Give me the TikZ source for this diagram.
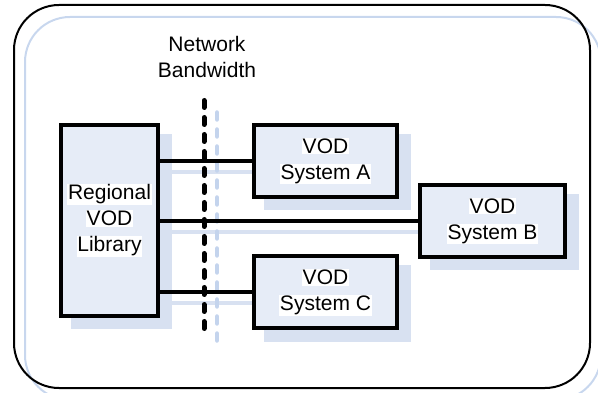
\documentclass[tikz,border=0pt]{standalone}
\usepackage{fontspec}
\setmainfont{Liberation Sans}
\usetikzlibrary{calc}

\definecolor{boxfill}{RGB}{230,236,247}
\definecolor{shadowblue}{RGB}{216,225,241}
\definecolor{frameshadow}{RGB}{200,215,238}
\definecolor{dashshadow}{RGB}{196,212,237}

\pgfdeclarelayer{back}
\pgfsetlayers{back,main}

% one line of label text on its own white strip
\setlength{\fboxsep}{0.8pt}
\newcommand{\wline}[1]{\colorbox{white}{#1}}

\begin{document}
\begin{tikzpicture}[x=1pt,y=-1pt,
  every node/.style={font=\fontsize{21}{26}\selectfont},
  sysbox/.style={draw=black, line width=4pt, fill=boxfill, align=center, inner sep=0pt},
  link/.style={line width=4pt},
  linkshadow/.style={line width=4pt, draw=shadowblue},
  boxshadow/.style={fill=shadowblue},
  netdash/.style={line width=5pt, line cap=round, dash pattern=on 7pt off 10pt},
  netdashshadow/.style={line width=4.5pt, line cap=round, dash pattern=on 7pt off 10pt, draw=dashshadow},
]
\useasboundingbox (0,0) rectangle (598,393);
\clip (0,0) rectangle (598,393);

% rounded outer frame with its offset shadow outline
\begin{pgfonlayer}{back}
  \draw[frameshadow, line width=2pt, rounded corners=45pt] (25,17) rectangle (601,400);
\end{pgfonlayer}
\draw[line width=2pt, rounded corners=45pt] (14,5) rectangle (590,388);

% boxes
\node[sysbox, minimum width=97pt, minimum height=191pt] (lib) at (109.5,220.5)
  {\wline{Regional}\\\wline{VOD}\\\wline{Library}};
\node[sysbox, minimum width=143pt, minimum height=72pt] (A) at (325.5,161)
  {\wline{VOD}\\\wline{System A}};
\node[sysbox, minimum width=145pt, minimum height=72pt] (B) at (492.5,221)
  {\wline{VOD}\\\wline{System B}};
\node[sysbox, minimum width=143pt, minimum height=72pt] (C) at (325.5,292.5)
  {\wline{VOD}\\\wline{System C}};

% bandwidth boundary
\node[align=center] (bw) at (207,57) {Network\\Bandwidth};
\coordinate (bwtop) at (204,100.5);
\coordinate (bwbot) at (204,330.5);

% shadows
\begin{pgfonlayer}{back}
  \foreach \n in {lib,A,B,C}
    \fill[boxshadow] ($(\n.south west)+(12,11)$) rectangle ($(\n.north east)+(12,11)$);
  \foreach \n in {A,B,C}
    \draw[linkshadow] ($(lib.east |- \n.west)+(10,11)$) -- ($(\n.west)+(12,11)$);
  \draw[netdashshadow] ($(bwtop)+(13,12)$) -- ($(bwbot)+(13,12)$);
\end{pgfonlayer}

% connectors
\foreach \n in {A,B,C}
  \draw[link] (lib.east |- \n.west) -- (\n.west);
\draw[netdash] (bwtop) -- (bwbot);
\end{tikzpicture}
\end{document}
